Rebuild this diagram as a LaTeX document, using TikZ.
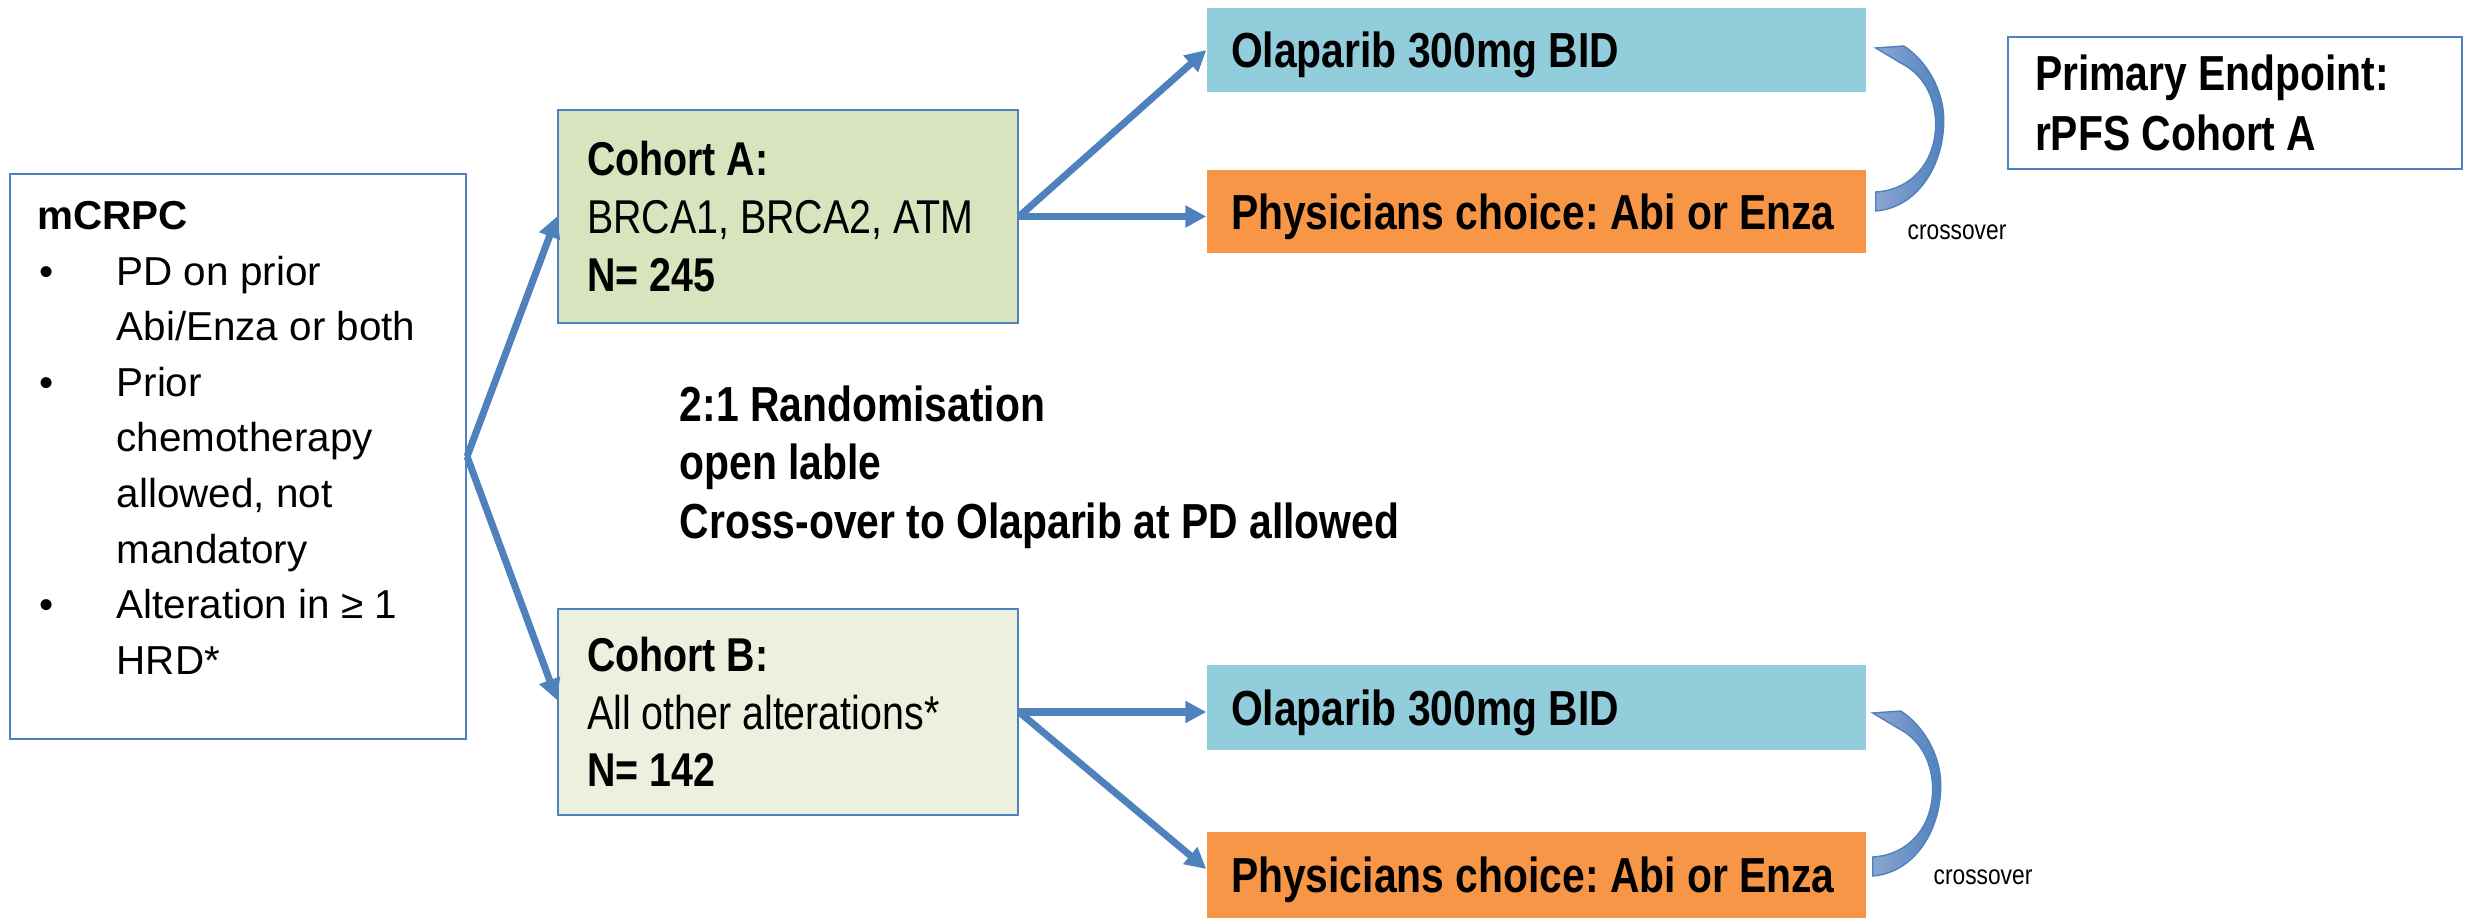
\documentclass[tikz,border=0pt]{standalone}
\usepackage{fontspec}
\setmainfont{Liberation Sans}
\newfontfamily\narrowsans{Liberation Sans}[FakeStretch=0.83]
\usepackage{tikz}
\usetikzlibrary{arrows.meta}
\frenchspacing

\definecolor{arrowblue}{HTML}{4F81BD}
\definecolor{tailblue}{HTML}{8AA6D2}
\definecolor{cohortagreen}{HTML}{D7E4BD}
\definecolor{cohortbgreen}{HTML}{EBF1DE}
\definecolor{olaparibblue}{HTML}{92CDDC}
\definecolor{physorange}{HTML}{F79646}

\newcommand{\mcbullet}{\makebox[7.9mm][l]{\hspace{0.2mm}\textbullet}}
\newcommand{\mcindent}{\hspace*{7.9mm}}

\tikzset{
  tightspace/.style={execute at begin node={\spaceskip=0pt\relax\xspaceskip=0pt\relax}},
  outlinebox/.style={draw=arrowblue, line width=0.6pt},
  cohortbox/.style={outlinebox, tightspace, minimum width=4.6cm, text width=4.02cm, inner xsep=0.29cm,
    inner ysep=0pt, align=left, font=\narrowsans\fontsize{13.5}{16.4}\selectfont},
  armbox/.style={tightspace, minimum width=6.59cm, text width=6.11cm, inner xsep=0.24cm, inner ysep=0pt,
    align=left, text depth=0pt, font=\narrowsans\fontsize{14}{17}\selectfont\bfseries},
  flow/.style={draw=arrowblue, line width=2pt, -{Triangle[length=0.21cm,width=0.21cm]}},
  smalllabel/.style={anchor=base west, inner sep=0pt, font=\narrowsans\fontsize{7.8}{9}\selectfont},
  crossarrow/.pic={
    \shade[left color=tailblue, right color=arrowblue, draw=arrowblue, line width=0.4pt]
      (0,0) -- (0.28,0.02) .. controls (0.5,-0.12) and (0.69,-0.42) .. (0.68,-0.75)
      .. controls (0.67,-1.2) and (0.4,-1.6) .. (0,-1.63) -- (0,-1.44)
      .. controls (0.35,-1.42) and (0.6,-1.15) .. (0.60,-0.75)
      .. controls (0.59,-0.45) and (0.45,-0.25) .. (0.25,-0.15) -- cycle;
  }
}

\begin{document}
\begin{tikzpicture}
\useasboundingbox (0,0) rectangle (24.65,9.18);

% patients
\node[outlinebox, minimum width=4.56cm, minimum height=5.65cm] (mcrpc) at (2.38,4.615) {};
\node[anchor=north west, inner sep=0pt, align=left, font=\fontsize{11.5}{15.8}\selectfont] (mcrpctext)
  at ([xshift=0.28cm,yshift=-0.28cm]mcrpc.north west)
  {\textbf{mCRPC}\\
   \mcbullet PD on prior\\
   \mcindent Abi/Enza or both\\
   \mcbullet Prior\\
   \mcindent chemotherapy\\
   \mcindent allowed, not\\
   \mcindent mandatory\\
   \mcbullet Alteration in ≥ 1\\
   \mcindent HRD*};

% cohorts
\node[cohortbox, fill=cohortagreen, minimum height=2.13cm] (cohortA) at (7.88,7.015)
  {\textbf{Cohort A:}\\BRCA1, BRCA2, ATM\\\textbf{N= 245}};
\node[cohortbox, fill=cohortbgreen, minimum height=2.06cm] (cohortB) at (7.88,2.06)
  {\textbf{Cohort B:}\\All other alterations*\\\textbf{N= 142}};

% arms
\node[armbox, fill=olaparibblue, minimum height=0.84cm] (olaA) at (15.365,8.68) {Olaparib 300mg BID};
\node[armbox, fill=physorange, minimum height=0.83cm] (physA) at (15.365,7.065) {Physicians choice: Abi or Enza};
\node[armbox, fill=olaparibblue, minimum height=0.85cm] (olaB) at (15.365,2.105) {Olaparib 300mg BID};
\node[armbox, fill=physorange, minimum height=0.86cm] (physB) at (15.365,0.43) {Physicians choice: Abi or Enza};

\node[outlinebox, tightspace, minimum width=4.54cm, minimum height=1.32cm, text width=4.0cm, inner xsep=0.27cm,
  inner ysep=0pt, align=left, font=\narrowsans\fontsize{14}{17}\selectfont\bfseries] (endpoint)
  at (22.35,8.15) {Primary Endpoint:\\rPFS Cohort A};

\node[anchor=north west, inner sep=0pt, align=left, font=\narrowsans\fontsize{14}{16.6}\selectfont\bfseries]
  (randtext) at (6.79,5.33) {2:1 Randomisation\\open lable\\Cross-over to Olaparib at PD allowed};

% connectors
\draw[flow] (mcrpc.east) -- (cohortA.west);
\draw[flow] (mcrpc.east) -- ([yshift=0.12cm]cohortB.west);
\draw[flow] (cohortA.east) -- (olaA.west);
\draw[flow] (cohortA.east) -- (cohortA.east -| physA.west);
\draw[flow] (cohortB.east) -- (cohortB.east -| olaB.west);
\draw[flow] (cohortB.east) -- ([yshift=0.06cm]physB.west);

% crossover
\pic at ([xshift=0.09cm,yshift=0.02cm]olaA.east) {crossarrow};
\pic at ([xshift=0.06cm,yshift=-0.055cm]olaB.east) {crossarrow};
\node[smalllabel] (crossA) at (19.07,6.78) {crossover};
\node[smalllabel] (crossB) at (19.33,0.33) {crossover};
\end{tikzpicture}
\end{document}
